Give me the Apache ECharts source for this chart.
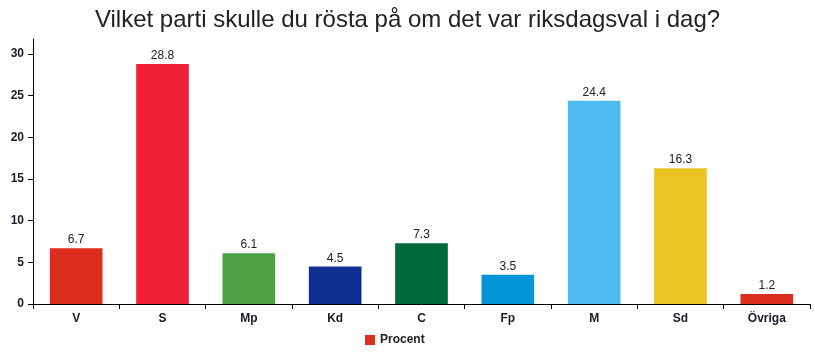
<!DOCTYPE html>
<html><head><meta charset="utf-8">
<script src="https://cdn.jsdelivr.net/npm/echarts@6/dist/echarts.min.js"></script>
<style>html,body{margin:0;padding:0;background:#fff}#c{width:815px;height:355px}</style>
</head><body><div id="c"></div>
<script>
const categories = ['V','S','Mp','Kd','C','Fp','M','Sd','Övriga'];
const values = [6.7, 28.8, 6.1, 4.5, 7.3, 3.5, 24.4, 16.3, 1.2];
const colors = ['#dc2e1e','#f01f38','#4ca243','#0f2f91','#006a3b','#0494d8','#4ebcee','#ebc525','#dc2e1e'];
const yTicks = [0,5,10,15,20,25,30];
const chart = echarts.init(document.getElementById('c'));
chart.setOption({
  animation:false,
  title:{text:'Vilket parti skulle du rösta på om det var riksdagsval i dag?',left:'center',top:3,
    textStyle:{fontFamily:'Liberation Sans, Arial',fontSize:24,fontWeight:'normal',color:'#222'}},
  legend:{data:['Procent'],bottom:4,left:360,itemWidth:10,itemHeight:10,itemGap:5,
    textStyle:{fontFamily:'Liberation Sans, Arial',fontSize:12,fontWeight:'bold',color:'#222'},
    icon:'rect'},
  grid:{left:33,right:5,top:39,bottom:51,containLabel:false},
  xAxis:{type:'category',data:categories,
    axisLine:{lineStyle:{color:'#000',width:1}},
    axisTick:{show:true,length:5,lineStyle:{color:'#000'}},
    axisLabel:{fontFamily:'Liberation Sans, Arial',fontSize:12,fontWeight:'bold',color:'#1a1a2a',margin:9}},
  yAxis:{type:'value',min:0,max:31.8,interval:5,
    splitLine:{show:false},
    axisLine:{show:true,lineStyle:{color:'#000',width:1}},
    axisTick:{show:true,length:5,lineStyle:{color:'#000'},customValues:yTicks},
    axisLabel:{fontFamily:'Liberation Sans, Arial',fontSize:12,fontWeight:'bold',color:'#1a1a2a',margin:9,customValues:yTicks}},
  series:[{name:'Procent',type:'bar',barWidth:'61%',color:colors[0],
    data:values.map((v,i)=>({value:v,itemStyle:{color:colors[i]}})),
    label:{show:true,position:'top',distance:2,fontFamily:'Liberation Sans, Arial',fontSize:12,color:'#222'}}]
});
</script></body></html>
